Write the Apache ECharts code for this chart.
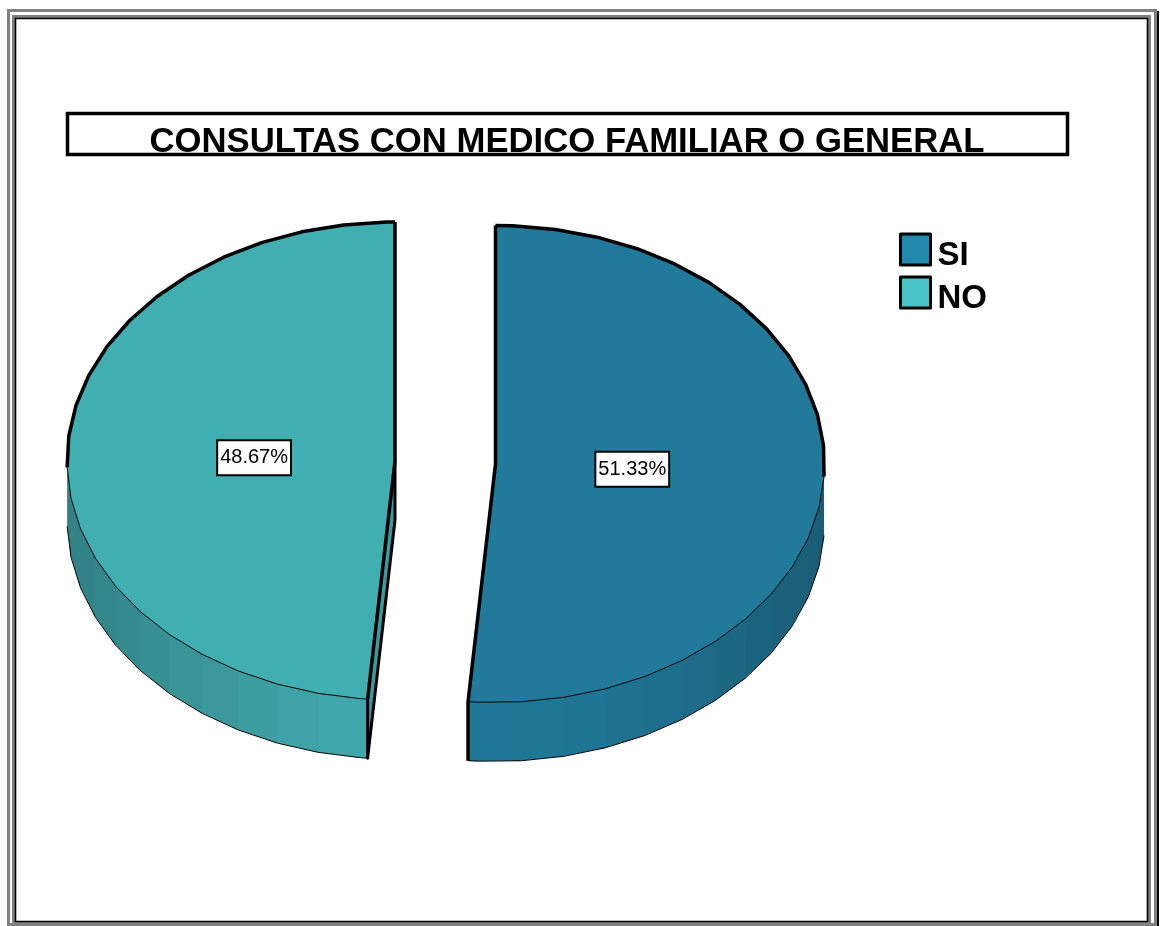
<!DOCTYPE html>
<html>
<head>
<meta charset="utf-8">
<style>html,body{margin:0;padding:0;background:#fff}#c{width:1163px;height:926px}</style>
<script src="https://cdn.jsdelivr.net/npm/echarts@6/dist/echarts.min.js"></script>
</head>
<body>
<div id="c"></div>
<script>
var titleText = 'CONSULTAS CON MEDICO FAMILIAR O GENERAL';
var categories = ['SI', 'NO'];
var values = [51.33, 48.67];
var legendColors = ['#2288ac', '#48c4c6'];
var topColors = ['#217a9a', '#41aeb2'];
var sideBright = [[31, 120, 152], [64, 168, 172]];
var sideDark = [[26, 92, 117], [50, 128, 132]];

// layout of each exploded slice (pixels)
var geom = [
  {cx: 495.5, cy: 464, rx: 329, ry: 238.5, depth: 59, vertexOffset: 3, thickTo: 93, labelR: 0.416},
  {cx: 395, cy: 461, rx: 328, ry: 239, depth: 59, vertexOffset: 6, thickFrom: 268.5, labelR: 0.43}
];
var total = values.reduce(function (a, b) { return a + b; }, 0);

function pt(g, deg, dy) {
  var r = deg * Math.PI / 180;
  return [g.cx + g.rx * Math.sin(r), g.cy - g.ry * Math.cos(r) + (dy || 0)];
}
function angles(g, a0, a1) {
  var out = [a0], k = Math.ceil((a0 - g.vertexOffset) / 7.5);
  for (var a = g.vertexOffset + 7.5 * k; a < a1; a += 7.5) { if (a > a0 + 0.2) out.push(a); }
  out.push(a1);
  return out;
}
function poly(points, fill, edge) {
  return {type: 'polygon', shape: {points: points},
    style: edge ? {fill: fill, stroke: fill, lineWidth: 0.6} : {fill: fill}};
}
function line(points, w) {
  return {type: 'polyline', shape: {points: points},
    style: {fill: null, stroke: '#000', lineWidth: w, lineJoin: 'round', lineCap: 'butt'}};
}
function mix(t, a, b) {
  return 'rgb(' + a.map(function (v, i) { return Math.round(v + (b[i] - v) * t); }).join(',') + ')';
}

function makeRender(index) {
  return function (params, api) {
    var value = api.value(0);
    var before = 0;
    for (var i = 0; i < index; i++) before += values[i];
    var g = geom[index];
    var a0 = before / total * 360, a1 = (before + value) / total * 360;
    var all = angles(g, a0, a1);
    var center = [g.cx, g.cy], centerLow = [g.cx, g.cy + g.depth];
    var children = [];

    // visible wall: the part of the rim facing the viewer
    var sideFrom = index === 0 ? g.thickTo : a0;
    var sideTo = index === 0 ? a1 : g.thickFrom;
    var rim = angles(g, sideFrom, sideTo);
    for (var j = 0; j < rim.length - 1; j++) {
      var mid = (rim[j] + rim[j + 1]) / 2;
      var t = Math.pow(Math.abs(Math.sin(mid * Math.PI / 180)), 1.6);
      var end = Math.min(rim[j + 1] + 1, sideTo);
      children.push(poly([pt(g, rim[j]), pt(g, end), pt(g, end, g.depth), pt(g, rim[j], g.depth)],
        mix(t, sideBright[index], sideDark[index])));
    }
    children.push(line(rim.map(function (a) { return pt(g, a, g.depth); }), 1));

    // cut face of the slice that opens towards the viewer
    if (index === 1) {
      var tip = pt(g, a0), tipLow = pt(g, a0, g.depth);
      children.push(poly([center, tip, tipLow, centerLow], mix(0.35, sideBright[index], sideDark[index])));
      children.push(line([center, centerLow, tipLow, tip], 3));
    }

    // top face
    var topPts = [center].concat(all.map(function (a) { return pt(g, a); }));
    children.push(poly(topPts, topColors[index], true));
    children.push(line(rim.map(function (a) { return pt(g, a); }), 1));

    // heavy outline: back half of the rim and the two radial edges
    if (index === 0) {
      var back0 = angles(g, a0, g.thickTo).map(function (a) { return pt(g, a); });
      children.push(line(back0, 3.5));
      children.push(line([pt(g, a0), center, pt(g, a1), pt(g, a1, g.depth)], 3.5));
    } else {
      var back1 = angles(g, g.thickFrom, a1).map(function (a) { return pt(g, a); });
      children.push(line(back1, 3.5));
      children.push(line([pt(g, a1), center, pt(g, a0)], 3.5));
    }

    // percentage label
    var midA = (a0 + a1) / 2 * Math.PI / 180;
    children.push({
      type: 'text',
      x: g.cx + g.rx * g.labelR * Math.sin(midA),
      y: g.cy - g.ry * g.labelR * Math.cos(midA) + 1,
      style: {
        text: value.toFixed(2) + '%',
        font: '20px "Liberation Sans", Arial, sans-serif',
        fill: '#000', align: 'center', verticalAlign: 'middle',
        backgroundColor: '#fff', borderColor: '#000', borderWidth: 2,
        padding: [8, 2, 5, 2]
      }
    });
    return {type: 'group', children: children};
  };
}

var chart = echarts.init(document.getElementById('c'), null, {renderer: 'canvas'});
chart.setOption({
  animation: false,
  backgroundColor: '#fff',
  title: {
    text: titleText, left: 562, top: 120, textAlign: 'center',
    textStyle: {fontFamily: '"Liberation Sans", Arial, sans-serif', fontWeight: 'bold', fontSize: 34.7, color: '#000'}
  },
  legend: {
    data: categories, orient: 'vertical', left: 894, top: 222,
    itemWidth: 30, itemHeight: 31, itemGap: -2, selectedMode: false, icon: 'rect',
    itemStyle: {borderColor: '#000', borderWidth: 3, borderJoin: 'round'},
    formatter: '{t|{name}}',
    textStyle: {
      rich: {t: {fontFamily: '"Liberation Sans", Arial, sans-serif', fontWeight: 'bold', fontSize: 33, lineHeight: 33, color: '#000', padding: [12, 0, 0, 2]}}
    }
  },
  graphic: [
    {type: 'rect', z: -10, shape: {x: 8.5, y: 10.5, width: 1147, height: 914}, style: {fill: 'none', stroke: '#808080', lineWidth: 3}},
    {type: 'rect', z: -10, shape: {x: 13.5, y: 16.5, width: 1136, height: 907}, style: {fill: 'none', stroke: '#808080', lineWidth: 3}},
    {type: 'rect', z: -9, shape: {x: 15.5, y: 18.5, width: 1132, height: 903}, style: {fill: '#fff', stroke: '#000', lineWidth: 1.6}},
    {type: 'line', z: -9, shape: {x1: 1158, y1: 11, x2: 1158, y2: 926}, style: {stroke: '#000', lineWidth: 2}},
    {type: 'rect', z: -8, shape: {x: 67.5, y: 113.5, width: 1000, height: 41}, style: {fill: '#fff', stroke: '#000', lineWidth: 3.5}}
  ],
  series: categories.map(function (name, i) {
    return {
      type: 'custom', name: name, coordinateSystem: 'none', silent: true,
      itemStyle: {color: legendColors[i]},
      data: [[values[i]]],
      renderItem: makeRender(i)
    };
  })
});
</script>
</body>
</html>
